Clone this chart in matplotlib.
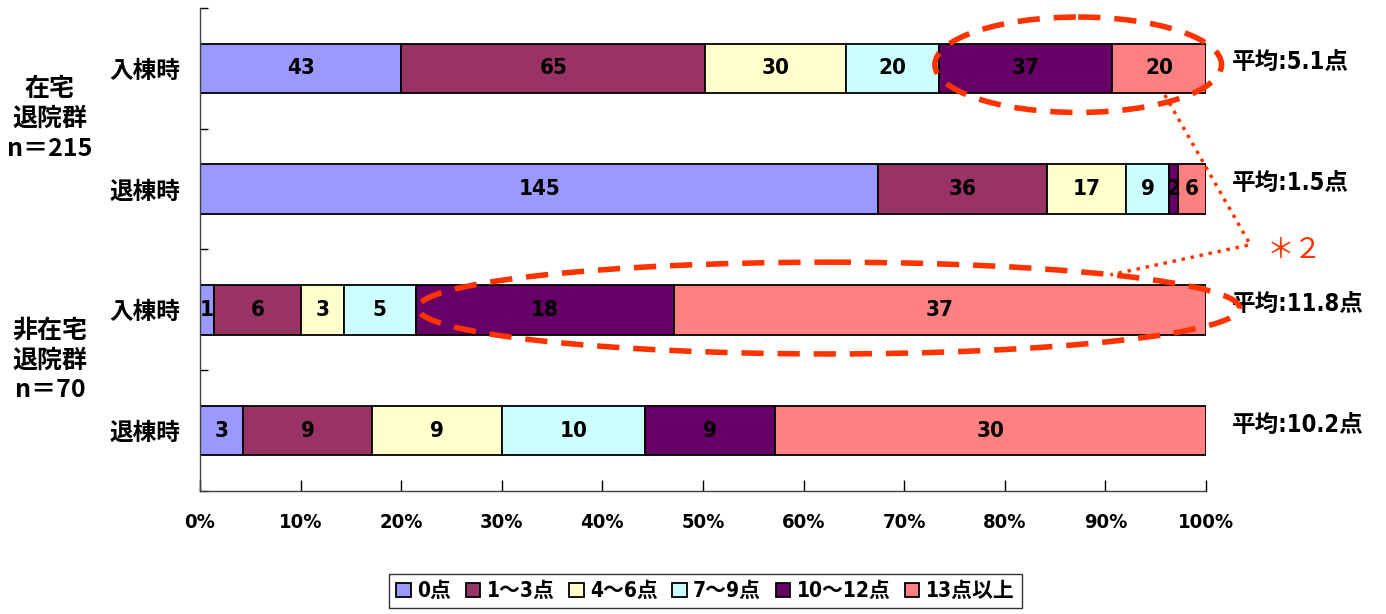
import matplotlib
matplotlib.use("Agg")
import matplotlib.pyplot as plt
from matplotlib.patches import Ellipse
from matplotlib.transforms import blended_transform_factory
import numpy as np

# score bands and counts per row (top to bottom)
bands = ["0点", "1～3点", "4～6点", "7～9点", "10～12点", "13点以上"]
band_colors = ["#9999FF", "#993366", "#FFFFCC", "#CCFFFF", "#660066", "#FF8080"]

row_labels = ["入棟時", "退棟時", "入棟時", "退棟時"]
counts = [
    [43, 65, 30, 20, 37, 20],
    [145, 36, 17, 9, 2, 6],
    [1, 6, 3, 5, 18, 37],
    [3, 9, 9, 10, 9, 30],
]
averages = ["平均:5.1点", "平均:1.5点", "平均:11.8点", "平均:10.2点"]
groups = ["在宅\n退院群\nn＝215", "非在宅\n退院群\nn＝70"]
x_ticks = [0, 10, 20, 30, 40, 50, 60, 70, 80, 90, 100]
x_tick_labels = ["0%", "10%", "20%", "30%", "40%", "50%", "60%", "70%", "80%", "90%", "100%"]

jp = "Noto Sans CJK JP"
fam = ["DejaVu Sans", jp]
cond = dict(family=fam, fontstretch="condensed", fontweight="bold")

fig = plt.figure(figsize=(13.86, 6.14), dpi=100)
ax = fig.add_axes([0.1443, 0.2003, 0.7258, 0.7867])

data = np.array(counts, dtype=float)
pct = data / data.sum(axis=1, keepdims=True) * 100
ypos = np.arange(len(row_labels))

left = np.zeros(len(row_labels))
for j, band in enumerate(bands):
    ax.barh(ypos, pct[:, j], left=left, height=0.41, color=band_colors[j],
            edgecolor="black", linewidth=1.3, label=band)
    for i in range(len(row_labels)):
        ax.text(left[i] + pct[i, j] / 2, ypos[i], str(counts[i][j]),
                ha="center", va="center", fontsize=16, color="black", **cond)
    left += pct[:, j]

ax.set_xlim(0, 100)
ax.set_ylim(3.5, -0.5)
ax.set_xticks(x_ticks)
ax.set_xticklabels(x_tick_labels, fontsize=14.5, **cond)
ax.tick_params(axis="x", direction="in", length=8, pad=16, width=1)
ax.set_yticks(ypos)
ax.set_yticklabels(row_labels, family=[jp], fontsize=17, fontweight="bold")
ax.tick_params(axis="y", which="major", length=0, pad=14)
ax.set_yticks(np.arange(-0.5, 4.0, 1.0), minor=True)
ax.tick_params(axis="y", which="minor", direction="in", length=6, width=1)
for s in ["top", "right"]:
    ax.spines[s].set_visible(False)
for s in ["left", "bottom"]:
    ax.spines[s].set_color("#404040")
    ax.spines[s].set_linewidth(1)

# mean scores to the right of each bar
for i, txt in enumerate(averages):
    ax.text(102.6, ypos[i] - 0.05, txt, ha="left", va="center", fontsize=17,
            clip_on=False, **cond)

# group labels on the far left
trans = blended_transform_factory(fig.transFigure, ax.transData)
for k, g in enumerate(groups):
    ax.text(0.036, 2 * k + 0.42, g, transform=trans, ha="center", va="center",
            fontsize=18, fontweight="bold", family=[jp], linespacing=1.3)

# highlight ellipses and callout
red = "#FF3300"
for cx, cy, w, h in [(87.3, -0.03, 28.5, 0.79), (62.5, 1.985, 81.7, 0.76)]:
    ax.add_patch(Ellipse((cx, cy), w, h, fill=False, edgecolor=red, linewidth=4,
                         linestyle=(0, (4, 2.5)), clip_on=False, zorder=5))
ax.plot([95.9, 104.4, 90.5], [0.22, 1.46, 1.71], color=red, linestyle=":",
        linewidth=2.5, clip_on=False, zorder=5)
ax.text(106.0, 1.5, "＊２", color=red, fontsize=20, family=[jp],
        ha="left", va="center", clip_on=False)

leg = fig.legend(loc="lower center", bbox_to_anchor=(0.509, -0.008), ncol=6,
                 frameon=True, fancybox=False, edgecolor="black",
                 prop={"family": fam, "size": 15, "weight": "bold", "stretch": "condensed"},
                 handlelength=0.7, handleheight=0.7, handletextpad=0.3,
                 columnspacing=0.7, borderpad=0.35)
leg.get_frame().set_linewidth(1)

fig.savefig("out.png", dpi=100)
